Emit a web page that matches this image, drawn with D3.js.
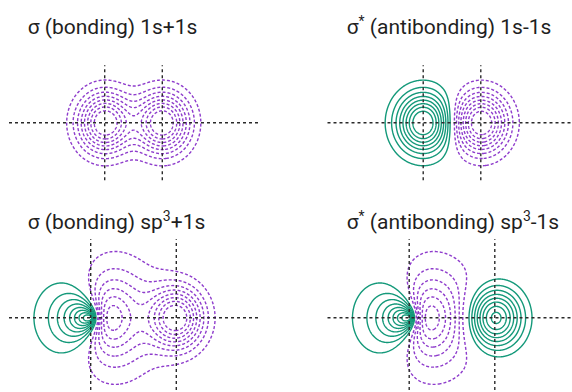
<!DOCTYPE html>
<html>
<head>
<meta charset="utf-8">
<script src="https://cdn.jsdelivr.net/npm/d3@7"></script>
<style>
  body { margin: 0; background: #fff; }
  svg { display: block; }
  text { font-family: Roboto, "Noto Sans", sans-serif; }
</style>
</head>
<body>
<svg id="chart" width="572" height="392"></svg>
<script>
// Contour levels of the orbital amplitude (drawn for + and - signs)
const levels = [0.105, 0.21, 0.315, 0.42, 0.525, 0.63, 0.735, 0.84];

// Nuclear positions along the bond axis (Å)
const h2Nuclei = [-0.37, 0.37];
const chNuclei = [-0.55, 0.55];

// Basis parameters
const hGaussExp = 9.31;       // H 1s Gaussian exponent (Å^-2)
const cZeta = 5.1;            // C 2s/2p effective charge
const bohr = 0.529;           // Å
const sp3Mix = [0.5, 0.866];  // s and p weights of the sp3 hybrid

// MO coefficients per panel: [first centre, second centre]
const moCoefs = [[-1, -1], [1, -1], [1, -0.94], [1, 0.94]];

// Panel titles as [text, superscript] runs
const titles = [
  [["σ (bonding) 1s+1s", false]],
  [["σ", false], ["*", true], [" (antibonding) 1s-1s", false]],
  [["σ (bonding) sp", false], ["3", true], ["+1s", false]],
  [["σ", false], ["*", true], [" (antibonding) sp", false], ["3", true], ["-1s", false]]
];

const xDomain = [-1.6, 1.6];
const yDomainTop = [-0.66, 0.66];
const yDomainBottom = [-0.9, 0.9];

const GREEN = "#14997a";
const PURPLE = "#8e3ccc";

// basis functions
function h1s(x, y, x0) {
  const dx = x - x0;
  return Math.exp(-hGaussExp * (dx * dx + y * y));
}
function sp3(x, y, x0) {
  const dx = x - x0;
  const r = Math.sqrt(dx * dx + y * y);
  const rho = cZeta * r / bohr;
  const rhoX = cZeta * dx / bohr;
  return Math.exp(-rho / 2) * (sp3Mix[0] * (2 - rho) - sp3Mix[1] * rhoX);
}

const panels = [
  { title: titles[0], nuclei: h2Nuclei, coefs: moCoefs[0], basis: [h1s, h1s], col: 0, row: 0 },
  { title: titles[1], nuclei: h2Nuclei, coefs: moCoefs[1], basis: [h1s, h1s], col: 1, row: 0 },
  { title: titles[2], nuclei: chNuclei, coefs: moCoefs[2], basis: [sp3, h1s], col: 0, row: 1 },
  { title: titles[3], nuclei: chNuclei, coefs: moCoefs[3], basis: [sp3, h1s], col: 1, row: 1 }
];

const svg = d3.select("#chart");

const colX = [[9, 258], [327.5, 576.5]];
const rowY = [[180.2, 65.2], [396.1, 239.3]];
const titlePos = [[27.7, 34.3], [346.7, 34.3], [27.7, 229.3], [346.7, 229.3]];

panels.forEach((p, idx) => {
  const x = d3.scaleLinear().domain(xDomain).range(colX[p.col]);
  const y = d3.scaleLinear().domain(p.row === 0 ? yDomainTop : yDomainBottom).range(rowY[p.row]);
  const g = svg.append("g");

  // sample the orbital on a fine grid
  const step = 0.5;
  const x0 = colX[p.col][0], y0 = rowY[p.row][1];
  const nx = Math.round((colX[p.col][1] - x0) / step) + 1;
  const ny = Math.round((rowY[p.row][0] - y0) / step) + 1;
  const values = new Float64Array(nx * ny);
  for (let j = 0; j < ny; j++) {
    const yv = y.invert(y0 + j * step);
    for (let i = 0; i < nx; i++) {
      const xv = x.invert(x0 + i * step);
      let v = 0;
      for (let k = 0; k < 2; k++) v += p.coefs[k] * p.basis[k](xv, yv, p.nuclei[k]);
      values[j * nx + i] = v;
    }
  }
  const neg = values.map(v => -v);
  const gen = d3.contours().size([nx, ny]).thresholds(levels);
  const path = d3.geoPath(d3.geoIdentity().scale(step).translate([x0, y0]));

  g.selectAll("path.pos").data(gen(values)).join("path")
    .attr("class", "pos")
    .attr("d", path)
    .attr("fill", "none")
    .attr("stroke", GREEN)
    .attr("stroke-width", 1.4);

  g.selectAll("path.neg").data(gen(neg)).join("path")
    .attr("class", "neg")
    .attr("d", path)
    .attr("fill", "none")
    .attr("stroke", PURPLE)
    .attr("stroke-width", 1.4)
    .attr("stroke-dasharray", "3,2");

  // axes through the nuclei
  const axisStyle = sel => sel.attr("stroke", "#2a2a2a").attr("stroke-width", 1.4).attr("stroke-dasharray", "3,3");
  g.append("line")
    .attr("x1", x(xDomain[0])).attr("x2", x(xDomain[1]))
    .attr("y1", y(0)).attr("y2", y(0))
    .call(axisStyle);
  p.nuclei.forEach(n => {
    g.append("line")
      .attr("x1", x(n)).attr("x2", x(n))
      .attr("y1", y(y.domain()[0])).attr("y2", y(y.domain()[1]))
      .call(axisStyle);
  });

  // title
  const t = svg.append("text")
    .attr("x", titlePos[idx][0]).attr("y", titlePos[idx][1])
    .attr("font-size", 21).attr("fill", "#1f1f1f");
  let raised = false;
  p.title.forEach(([txt, sup]) => {
    if (sup) {
      t.append("tspan").attr("font-size", 14).attr("dy", -8).text(txt);
      raised = true;
    } else {
      t.append("tspan").attr("dy", raised ? 8 : 0).text(txt);
      raised = false;
    }
  });
});
</script>
</body>
</html>
